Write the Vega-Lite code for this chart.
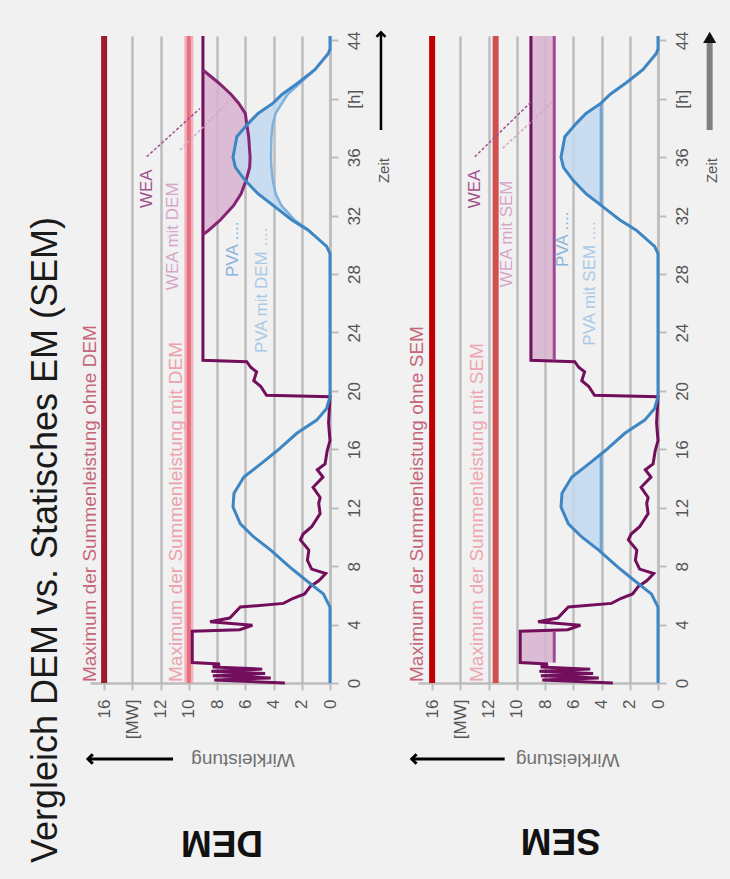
{
"$schema": "https://vega.github.io/schema/vega-lite/v6.json",
"background": "#f1f1f1",
"padding": {"left": 28, "top": 27, "right": 12, "bottom": 20},
"config": {"view": {"stroke": null}, "font": "Liberation Sans"},
"spacing": 88,
"bounds": "flush",
"datasets": {
"wea": [{"t":0,"mw":3.2},{"t":0.2,"mw":8.2},{"t":0.35,"mw":4.2},{"t":0.5,"mw":8.3},{"t":0.65,"mw":4.6},{"t":0.8,"mw":8.4},{"t":0.95,"mw":4.8},{"t":1.1,"mw":8.3},{"t":1.3,"mw":7.8},{"t":1.4,"mw":9.76},{"t":3.55,"mw":9.76},{"t":3.65,"mw":6.4},{"t":3.95,"mw":5.5},{"t":4.2,"mw":8.5},{"t":4.45,"mw":7.1},{"t":5.2,"mw":6.35},{"t":5.45,"mw":3.3},{"t":5.8,"mw":2.6},{"t":6.1,"mw":1.8},{"t":6.6,"mw":1.4},{"t":7.0,"mw":0.8},{"t":7.5,"mw":0.3},{"t":7.8,"mw":1.3},{"t":8.4,"mw":1.6},{"t":9.1,"mw":1.5},{"t":9.8,"mw":2.1},{"t":10.2,"mw":1.9},{"t":10.7,"mw":1.3},{"t":11.6,"mw":0.7},{"t":12.3,"mw":0.8},{"t":12.7,"mw":0.7},{"t":13.4,"mw":1.2},{"t":14.1,"mw":0.5},{"t":14.6,"mw":0.9},{"t":15.0,"mw":0.35},{"t":15.9,"mw":0.2},{"t":16.6,"mw":0.0},{"t":17.8,"mw":0.1},{"t":19.6,"mw":0.0},{"t":19.7,"mw":4.5},{"t":20.3,"mw":4.9},{"t":20.7,"mw":5.4},{"t":21.3,"mw":5.2},{"t":21.6,"mw":5.6},{"t":22.0,"mw":5.9},{"t":22.1,"mw":9.0},{"t":44.3,"mw":9.0}],
"pva": [{"t":0,"mw":0},{"t":5.2,"mw":0},{"t":6.1,"mw":0.47},{"t":7.0,"mw":1.65},{"t":7.9,"mw":2.8},{"t":9.1,"mw":4.2},{"t":10.0,"mw":5.4},{"t":10.9,"mw":6.35},{"t":12.05,"mw":6.87},{"t":13.0,"mw":6.8},{"t":14.1,"mw":6.1},{"t":15.0,"mw":4.9},{"t":15.9,"mw":3.75},{"t":17.1,"mw":2.35},{"t":18.0,"mw":0.94},{"t":18.8,"mw":0.24},{"t":19.6,"mw":0},{"t":29.4,"mw":0},{"t":29.9,"mw":0.24},{"t":31.0,"mw":1.54},{"t":31.7,"mw":2.7},{"t":32.7,"mw":4.03},{"t":33.5,"mw":5.1},{"t":34.4,"mw":6.0},{"t":35.3,"mw":6.7},{"t":36.0,"mw":6.87},{"t":37.4,"mw":6.6},{"t":38.3,"mw":5.8},{"t":39.0,"mw":5.1},{"t":39.7,"mw":4.03},{"t":40.3,"mw":3.4},{"t":41.1,"mw":2.25},{"t":42.0,"mw":1.07},{"t":43.1,"mw":0.12},{"t":43.4,"mw":0},{"t":44.3,"mw":0}],
"dem_wea_cut": [{"t":30.7,"wea":9.0,"cut":9.0},{"t":31.0,"wea":9.0,"cut":8.59},{"t":31.7,"wea":9.0,"cut":7.77},{"t":32.7,"wea":9.0,"cut":6.82},{"t":33.5,"wea":9.0,"cut":6.3},{"t":34.4,"wea":9.0,"cut":5.95},{"t":35.3,"wea":9.0,"cut":5.69},{"t":36.0,"wea":9.0,"cut":5.66},{"t":37.4,"wea":9.0,"cut":5.76},{"t":38.3,"wea":9.0,"cut":5.9},{"t":39.0,"wea":9.0,"cut":6.0},{"t":39.7,"wea":9.0,"cut":6.47},{"t":40.3,"wea":9.0,"cut":7.0},{"t":41.1,"wea":9.0,"cut":7.9},{"t":41.97,"wea":9.0,"cut":9.0}],
"dem_pva_cut": [{"t":30.7,"pva":1.19,"cut":1.19},{"t":31.0,"pva":1.54,"cut":1.5},{"t":31.7,"pva":2.7,"cut":2.5},{"t":32.7,"pva":4.03,"cut":3.45},{"t":33.5,"pva":5.1,"cut":3.85},{"t":34.4,"pva":6.0,"cut":4.05},{"t":35.3,"pva":6.7,"cut":4.15},{"t":36.0,"pva":6.87,"cut":4.18},{"t":37.4,"pva":6.6,"cut":4.15},{"t":38.3,"pva":5.8,"cut":4.05},{"t":39.0,"pva":5.1,"cut":3.85},{"t":39.7,"pva":4.03,"cut":3.4},{"t":40.3,"pva":3.4,"cut":3.0},{"t":41.1,"pva":2.25,"cut":2.1},{"t":42.0,"pva":1.07,"cut":1.07}],
"sem_wea_cut": [{"seg":"a","t":1.4,"wea":9.76,"cut":7.35},{"seg":"a","t":3.55,"wea":9.76,"cut":7.35},{"seg":"b","t":22.1,"wea":9.0,"cut":7.35},{"seg":"b","t":44.3,"wea":9.0,"cut":7.35}],
"sem_pva_cut": [{"seg":"a","t":8.95,"pva":4.03,"cut":4.03},{"seg":"a","t":9.1,"pva":4.2,"cut":4.03},{"seg":"a","t":10.0,"pva":5.4,"cut":4.03},{"seg":"a","t":10.9,"pva":6.35,"cut":4.03},{"seg":"a","t":12.05,"pva":6.87,"cut":4.03},{"seg":"a","t":13.0,"pva":6.8,"cut":4.03},{"seg":"a","t":14.1,"pva":6.1,"cut":4.03},{"seg":"a","t":15.0,"pva":4.9,"cut":4.03},{"seg":"a","t":15.68,"pva":4.03,"cut":4.03},{"seg":"b","t":32.7,"pva":4.03,"cut":4.03},{"seg":"b","t":33.5,"pva":5.1,"cut":4.03},{"seg":"b","t":34.4,"pva":6.0,"cut":4.03},{"seg":"b","t":35.3,"pva":6.7,"cut":4.03},{"seg":"b","t":36.0,"pva":6.87,"cut":4.03},{"seg":"b","t":37.4,"pva":6.6,"cut":4.03},{"seg":"b","t":38.3,"pva":5.8,"cut":4.03},{"seg":"b","t":39.0,"pva":5.1,"cut":4.03},{"seg":"b","t":39.7,"pva":4.03,"cut":4.03}]
},
"hconcat": [
{
"width": 240, "height": 647,
"resolve": {"axis": {"x": "independent", "y": "independent"}},
"layer": [
{"data":{"name":"dem_wea_cut"},"mark":{"type":"area","orient":"horizontal","color":"#d8b2d0","opacity":0.85},
 "encoding":{
  "y":{"field":"t","type":"quantitative","scale":{"domain":[0,44.3],"nice":false,"zero":false},
   "axis":{"orient":"right","title":null,"values":[0,4,8,12,16,20,24,28,32,36,40,44],"labelExpr":"datum.value==40?'[h]':datum.label","labelAngle":270,"labelAlign":"center","labelBaseline":"top","labelFontSize":17,"labelColor":"#555555","tickColor":"#bdbdbd","tickSize":8,"tickWidth":2,"domainColor":"#bdbdbd","domainWidth":2.5,"grid":false,"labelPadding":8}},
  "x":{"field":"wea","type":"quantitative","scale":{"domain":[0,17],"reverse":true,"nice":false,"zero":false},
   "axis":{"orient":"bottom","title":null,"values":[0,2,4,6,8,10,12,14,16],"labelExpr":"datum.value==14?'[MW]':datum.label","labelAngle":270,"labelAlign":"right","labelBaseline":"middle","labelFontSize":17,"labelColor":"#555555","tickColor":"#bdbdbd","tickSize":7,"tickWidth":2,"domainColor":"#bdbdbd","domainWidth":2.5,"grid":true,"gridColor":"#bdbdbd","gridWidth":2.5,"labelPadding":9}},
  "x2":{"field":"cut"}}},
{"data":{"name":"dem_pva_cut"},"mark":{"type":"area","orient":"horizontal","color":"#c3d8f0","opacity":0.85},
 "encoding":{"y":{"field":"t","type":"quantitative","scale":{"domain":[0,44.3],"nice":false,"zero":false},"axis":null},"x":{"field":"pva","type":"quantitative","scale":{"domain":[0,17],"reverse":true,"nice":false,"zero":false},"axis":null},"x2":{"field":"cut"}}},
{"data":{"values":[{}]},"mark":{"type":"rule","color":"#9b1b30","strokeWidth":6},
 "encoding":{"x":{"datum":16,"type":"quantitative","scale":{"domain":[0,17],"reverse":true,"nice":false,"zero":false},"axis":null}}},
{"data":{"values":[{}]},"mark":{"type":"rule","color":"#f3b2bb","strokeWidth":9},
 "encoding":{"x":{"datum":10,"type":"quantitative","scale":{"domain":[0,17],"reverse":true,"nice":false,"zero":false},"axis":null}}},
{"data":{"values":[{}]},"mark":{"type":"rule","color":"#e8707e","strokeWidth":4},
 "encoding":{"x":{"datum":10,"type":"quantitative","scale":{"domain":[0,17],"reverse":true,"nice":false,"zero":false},"axis":null}}},
{"data":{"values":[{}]},"mark":{"type":"text","text":"Maximum der Summenleistung ohne DEM","angle":270,"align":"left","baseline":"middle","fontSize":19,"color":"#c5667a"},
 "encoding":{"x":{"datum":17.0,"type":"quantitative","scale":{"domain":[0,17],"reverse":true,"nice":false,"zero":false},"axis":null},"y":{"datum":0.07,"type":"quantitative","scale":{"domain":[0,44.3],"nice":false,"zero":false},"axis":null}}},
{"data":{"values":[{}]},"mark":{"type":"text","text":"Maximum der Summenleistung mit DEM","angle":270,"align":"left","baseline":"middle","fontSize":19,"color":"#eba2ae"},
 "encoding":{"x":{"datum":10.94,"type":"quantitative","scale":{"domain":[0,17],"reverse":true,"nice":false,"zero":false},"axis":null},"y":{"datum":0.07,"type":"quantitative","scale":{"domain":[0,44.3],"nice":false,"zero":false},"axis":null}}},
{"data":{"name":"wea"},"mark":{"type":"line","color":"#720e5b","strokeWidth":3},
 "encoding":{"y":{"field":"t","type":"quantitative","scale":{"domain":[0,44.3],"nice":false,"zero":false},"axis":null},"x":{"field":"mw","type":"quantitative","scale":{"domain":[0,17],"reverse":true,"nice":false,"zero":false},"axis":null},"order":{"value":null}}},
{"data":{"name":"dem_wea_cut"},"mark":{"type":"line","color":"#852473","strokeWidth":3},
 "encoding":{"y":{"field":"t","type":"quantitative","scale":{"domain":[0,44.3],"nice":false,"zero":false},"axis":null},"x":{"field":"cut","type":"quantitative","scale":{"domain":[0,17],"reverse":true,"nice":false,"zero":false},"axis":null},"order":{"value":null}}},
{"data":{"name":"dem_pva_cut"},"mark":{"type":"line","color":"#7fb1dd","strokeWidth":2.5},
 "encoding":{"y":{"field":"t","type":"quantitative","scale":{"domain":[0,44.3],"nice":false,"zero":false},"axis":null},"x":{"field":"cut","type":"quantitative","scale":{"domain":[0,17],"reverse":true,"nice":false,"zero":false},"axis":null},"order":{"value":null}}},
{"data":{"name":"pva"},"mark":{"type":"line","color":"#3d86c3","strokeWidth":3},
 "encoding":{"y":{"field":"t","type":"quantitative","scale":{"domain":[0,44.3],"nice":false,"zero":false},"axis":null},"x":{"field":"mw","type":"quantitative","scale":{"domain":[0,17],"reverse":true,"nice":false,"zero":false},"axis":null},"order":{"value":null}}},
{"data":{"values":[{}]},"mark":{"type":"rule","color":"#a2508e","strokeWidth":1.5,"strokeDash":[3,2]},
 "encoding":{"x":{"datum":12.98,"type":"quantitative","scale":{"domain":[0,17],"reverse":true,"nice":false,"zero":false},"axis":null},"x2":{"datum":9.21},"y":{"datum":36.03,"type":"quantitative","scale":{"domain":[0,44.3],"nice":false,"zero":false},"axis":null},"y2":{"datum":39.34}}},
{"data":{"values":[{}]},"mark":{"type":"rule","color":"#d6a6c8","strokeWidth":1.5,"strokeDash":[3,2]},
 "encoding":{"x":{"datum":10.62,"type":"quantitative","scale":{"domain":[0,17],"reverse":true,"nice":false,"zero":false},"axis":null},"x2":{"datum":7.08},"y":{"datum":36.49,"type":"quantitative","scale":{"domain":[0,44.3],"nice":false,"zero":false},"axis":null},"y2":{"datum":39.9}}},
{"data":{"values":[{}]},"mark":{"type":"text","text":"WEA","angle":270,"align":"left","baseline":"middle","fontSize":17,"color":"#a2508e"},
 "encoding":{"x":{"datum":12.96,"type":"quantitative","scale":{"domain":[0,17],"reverse":true,"nice":false,"zero":false},"axis":null},"y":{"datum":32.52,"type":"quantitative","scale":{"domain":[0,44.3],"nice":false,"zero":false},"axis":null}}},
{"data":{"values":[{}]},"mark":{"type":"text","text":"WEA  mit DEM","angle":270,"align":"left","baseline":"middle","fontSize":17,"color":"#d6a6c8"},
 "encoding":{"x":{"datum":11.15,"type":"quantitative","scale":{"domain":[0,17],"reverse":true,"nice":false,"zero":false},"axis":null},"y":{"datum":26.9,"type":"quantitative","scale":{"domain":[0,44.3],"nice":false,"zero":false},"axis":null}}},
{"data":{"values":[{}]},"mark":{"type":"text","text":"PVA ....","angle":270,"align":"left","baseline":"middle","fontSize":17,"color":"#88b4dc"},
 "encoding":{"x":{"datum":6.87,"type":"quantitative","scale":{"domain":[0,17],"reverse":true,"nice":false,"zero":false},"axis":null},"y":{"datum":27.8,"type":"quantitative","scale":{"domain":[0,44.3],"nice":false,"zero":false},"axis":null}}},
{"data":{"values":[{}]},"mark":{"type":"text","text":"PVA  mit DEM ....","angle":270,"align":"left","baseline":"middle","fontSize":17,"color":"#a9c9e6"},
 "encoding":{"x":{"datum":4.82,"type":"quantitative","scale":{"domain":[0,17],"reverse":true,"nice":false,"zero":false},"axis":null},"y":{"datum":22.6,"type":"quantitative","scale":{"domain":[0,44.3],"nice":false,"zero":false},"axis":null}}},
{"data":{"values":[{}]},"mark":{"type":"text","text":"Wirkleistung","angle":180,"align":"center","baseline":"middle","fontSize":19,"color":"#707070"},
 "encoding":{"x":{"datum":6.16,"type":"quantitative","scale":{"domain":[0,17],"reverse":true,"nice":false,"zero":false},"axis":null},"y":{"datum":-5.27,"type":"quantitative","scale":{"domain":[0,44.3],"nice":false,"zero":false},"axis":null}}},
{"data":{"values":[{}]},"mark":{"type":"rule","color":"#000000","strokeWidth":3},
 "encoding":{"x":{"datum":11.12,"type":"quantitative","scale":{"domain":[0,17],"reverse":true,"nice":false,"zero":false},"axis":null},"x2":{"datum":17.14},"y":{"datum":-5.2,"type":"quantitative","scale":{"domain":[0,44.3],"nice":false,"zero":false},"axis":null}}},
{"data":{"values":[{}]},"mark":{"type":"point","shape":"M1,-1L0,0L1,1","filled":false,"color":"#000000","strokeWidth":3,"size":90,"opacity":1},
 "encoding":{"x":{"datum":17.14,"type":"quantitative","scale":{"domain":[0,17],"reverse":true,"nice":false,"zero":false},"axis":null},"y":{"datum":-5.2,"type":"quantitative","scale":{"domain":[0,44.3],"nice":false,"zero":false},"axis":null}}},
{"data":{"values":[{}]},"mark":{"type":"text","text":"DEM","angle":180,"align":"center","baseline":"middle","fontSize":37,"fontWeight":"bold","color":"#111111"},
 "encoding":{"x":{"datum":7.65,"type":"quantitative","scale":{"domain":[0,17],"reverse":true,"nice":false,"zero":false},"axis":null},"y":{"datum":-10.9,"type":"quantitative","scale":{"domain":[0,44.3],"nice":false,"zero":false},"axis":null}}},
{"data":{"values":[{}]},"mark":{"type":"rule","color":"#000000","strokeWidth":2.5},
 "encoding":{"x":{"datum":-3.61,"type":"quantitative","scale":{"domain":[0,17],"reverse":true,"nice":false,"zero":false},"axis":null},"y":{"datum":37.86,"type":"quantitative","scale":{"domain":[0,44.3],"nice":false,"zero":false},"axis":null},"y2":{"datum":44.5}}},
{"data":{"values":[{}]},"mark":{"type":"point","shape":"M-1,1L0,0L1,1","filled":false,"color":"#000000","strokeWidth":2.5,"size":80,"opacity":1},
 "encoding":{"x":{"datum":-3.61,"type":"quantitative","scale":{"domain":[0,17],"reverse":true,"nice":false,"zero":false},"axis":null},"y":{"datum":44.55,"type":"quantitative","scale":{"domain":[0,44.3],"nice":false,"zero":false},"axis":null}}},
{"data":{"values":[{}]},"mark":{"type":"text","text":"Zeit","angle":270,"align":"left","baseline":"middle","fontSize":15,"color":"#555555"},
 "encoding":{"x":{"datum":-3.82,"type":"quantitative","scale":{"domain":[0,17],"reverse":true,"nice":false,"zero":false},"axis":null},"y":{"datum":34.23,"type":"quantitative","scale":{"domain":[0,44.3],"nice":false,"zero":false},"axis":null}}},
{"data":{"values":[{}]},"mark":{"type":"text","text":"Vergleich DEM vs. Statisches EM (SEM)","angle":270,"align":"center","baseline":"middle","fontSize":36,"color":"#1a1a1a"},
 "encoding":{"x":{"datum":20.1,"type":"quantitative","scale":{"domain":[0,17],"reverse":true,"nice":false,"zero":false},"axis":null},"y":{"datum":9.79,"type":"quantitative","scale":{"domain":[0,44.3],"nice":false,"zero":false},"axis":null}}}
]
},
{
"width": 240, "height": 647,
"resolve": {"axis": {"x": "independent", "y": "independent"}},
"layer": [
{"data":{"name":"sem_wea_cut"},"mark":{"type":"area","orient":"horizontal","color":"#d8b2d0","opacity":0.85},
 "encoding":{
  "y":{"field":"t","type":"quantitative","scale":{"domain":[0,44.3],"nice":false,"zero":false},
   "axis":{"orient":"right","title":null,"values":[0,4,8,12,16,20,24,28,32,36,40,44],"labelExpr":"datum.value==40?'[h]':datum.label","labelAngle":270,"labelAlign":"center","labelBaseline":"top","labelFontSize":17,"labelColor":"#555555","tickColor":"#bdbdbd","tickSize":8,"tickWidth":2,"domainColor":"#bdbdbd","domainWidth":2.5,"grid":false,"labelPadding":8}},
  "x":{"field":"wea","type":"quantitative","scale":{"domain":[0,17],"reverse":true,"nice":false,"zero":false},
   "axis":{"orient":"bottom","title":null,"values":[0,2,4,6,8,10,12,14,16],"labelExpr":"datum.value==14?'[MW]':datum.label","labelAngle":270,"labelAlign":"right","labelBaseline":"middle","labelFontSize":17,"labelColor":"#555555","tickColor":"#bdbdbd","tickSize":7,"tickWidth":2,"domainColor":"#bdbdbd","domainWidth":2.5,"grid":true,"gridColor":"#bdbdbd","gridWidth":2.5,"labelPadding":9}},
  "x2":{"field":"cut"},"detail":{"field":"seg"}}},
{"data":{"name":"sem_pva_cut"},"mark":{"type":"area","orient":"horizontal","color":"#c3d8f0","opacity":0.85},
 "encoding":{"y":{"field":"t","type":"quantitative","scale":{"domain":[0,44.3],"nice":false,"zero":false},"axis":null},"x":{"field":"pva","type":"quantitative","scale":{"domain":[0,17],"reverse":true,"nice":false,"zero":false},"axis":null},"x2":{"field":"cut"},"detail":{"field":"seg"}}},
{"data":{"values":[{}]},"mark":{"type":"rule","color":"#c00000","strokeWidth":6},
 "encoding":{"x":{"datum":16,"type":"quantitative","scale":{"domain":[0,17],"reverse":true,"nice":false,"zero":false},"axis":null}}},
{"data":{"values":[{}]},"mark":{"type":"rule","color":"#d24f50","strokeWidth":6},
 "encoding":{"x":{"datum":11.5,"type":"quantitative","scale":{"domain":[0,17],"reverse":true,"nice":false,"zero":false},"axis":null}}},
{"data":{"values":[{}]},"mark":{"type":"text","text":"Maximum der Summenleistung ohne SEM","angle":270,"align":"left","baseline":"middle","fontSize":19,"color":"#c5667a"},
 "encoding":{"x":{"datum":17.09,"type":"quantitative","scale":{"domain":[0,17],"reverse":true,"nice":false,"zero":false},"axis":null},"y":{"datum":0.07,"type":"quantitative","scale":{"domain":[0,44.3],"nice":false,"zero":false},"axis":null}}},
{"data":{"values":[{}]},"mark":{"type":"text","text":"Maximum der Summenleistung mit SEM","angle":270,"align":"left","baseline":"middle","fontSize":19,"color":"#eda6b2"},
 "encoding":{"x":{"datum":12.84,"type":"quantitative","scale":{"domain":[0,17],"reverse":true,"nice":false,"zero":false},"axis":null},"y":{"datum":0.07,"type":"quantitative","scale":{"domain":[0,44.3],"nice":false,"zero":false},"axis":null}}},
{"data":{"name":"wea"},"mark":{"type":"line","color":"#720e5b","strokeWidth":3},
 "encoding":{"y":{"field":"t","type":"quantitative","scale":{"domain":[0,44.3],"nice":false,"zero":false},"axis":null},"x":{"field":"mw","type":"quantitative","scale":{"domain":[0,17],"reverse":true,"nice":false,"zero":false},"axis":null},"order":{"value":null}}},
{"data":{"name":"sem_wea_cut"},"mark":{"type":"line","color":"#a14891","strokeWidth":3},
 "encoding":{"y":{"field":"t","type":"quantitative","scale":{"domain":[0,44.3],"nice":false,"zero":false},"axis":null},"x":{"field":"cut","type":"quantitative","scale":{"domain":[0,17],"reverse":true,"nice":false,"zero":false},"axis":null},"detail":{"field":"seg"},"order":{"value":null}}},
{"data":{"name":"sem_pva_cut"},"mark":{"type":"line","color":"#6fa6d6","strokeWidth":3},
 "encoding":{"y":{"field":"t","type":"quantitative","scale":{"domain":[0,44.3],"nice":false,"zero":false},"axis":null},"x":{"field":"cut","type":"quantitative","scale":{"domain":[0,17],"reverse":true,"nice":false,"zero":false},"axis":null},"detail":{"field":"seg"},"order":{"value":null}}},
{"data":{"name":"pva"},"mark":{"type":"line","color":"#3d86c3","strokeWidth":3},
 "encoding":{"y":{"field":"t","type":"quantitative","scale":{"domain":[0,44.3],"nice":false,"zero":false},"axis":null},"x":{"field":"mw","type":"quantitative","scale":{"domain":[0,17],"reverse":true,"nice":false,"zero":false},"axis":null},"order":{"value":null}}},
{"data":{"values":[{}]},"mark":{"type":"rule","color":"#a2508e","strokeWidth":1.5,"strokeDash":[3,2]},
 "encoding":{"x":{"datum":12.98,"type":"quantitative","scale":{"domain":[0,17],"reverse":true,"nice":false,"zero":false},"axis":null},"x2":{"datum":8.97},"y":{"datum":36.03,"type":"quantitative","scale":{"domain":[0,44.3],"nice":false,"zero":false},"axis":null},"y2":{"datum":39.8}}},
{"data":{"values":[{}]},"mark":{"type":"rule","color":"#d6a6c8","strokeWidth":1.5,"strokeDash":[3,2]},
 "encoding":{"x":{"datum":11.0,"type":"quantitative","scale":{"domain":[0,17],"reverse":true,"nice":false,"zero":false},"axis":null},"x2":{"datum":7.46},"y":{"datum":36.62,"type":"quantitative","scale":{"domain":[0,44.3],"nice":false,"zero":false},"axis":null},"y2":{"datum":39.79}}},
{"data":{"values":[{}]},"mark":{"type":"text","text":"WEA","angle":270,"align":"left","baseline":"middle","fontSize":17,"color":"#a2508e"},
 "encoding":{"x":{"datum":12.98,"type":"quantitative","scale":{"domain":[0,17],"reverse":true,"nice":false,"zero":false},"axis":null},"y":{"datum":32.5,"type":"quantitative","scale":{"domain":[0,44.3],"nice":false,"zero":false},"axis":null}}},
{"data":{"values":[{}]},"mark":{"type":"text","text":"WEA  mit SEM","angle":270,"align":"left","baseline":"middle","fontSize":17,"color":"#d6a6c8"},
 "encoding":{"x":{"datum":10.72,"type":"quantitative","scale":{"domain":[0,17],"reverse":true,"nice":false,"zero":false},"axis":null},"y":{"datum":27.1,"type":"quantitative","scale":{"domain":[0,44.3],"nice":false,"zero":false},"axis":null}}},
{"data":{"values":[{}]},"mark":{"type":"text","text":"PVA ....","angle":270,"align":"left","baseline":"middle","fontSize":17,"color":"#88b4dc"},
 "encoding":{"x":{"datum":6.75,"type":"quantitative","scale":{"domain":[0,17],"reverse":true,"nice":false,"zero":false},"axis":null},"y":{"datum":28.48,"type":"quantitative","scale":{"domain":[0,44.3],"nice":false,"zero":false},"axis":null}}},
{"data":{"values":[{}]},"mark":{"type":"text","text":"PVA  mit SEM ....","angle":270,"align":"left","baseline":"middle","fontSize":17,"color":"#a9c9e6"},
 "encoding":{"x":{"datum":4.84,"type":"quantitative","scale":{"domain":[0,17],"reverse":true,"nice":false,"zero":false},"axis":null},"y":{"datum":23.1,"type":"quantitative","scale":{"domain":[0,44.3],"nice":false,"zero":false},"axis":null}}},
{"data":{"values":[{}]},"mark":{"type":"text","text":"Wirkleistung","angle":180,"align":"center","baseline":"middle","fontSize":19,"color":"#707070"},
 "encoding":{"x":{"datum":6.4,"type":"quantitative","scale":{"domain":[0,17],"reverse":true,"nice":false,"zero":false},"axis":null},"y":{"datum":-5.27,"type":"quantitative","scale":{"domain":[0,44.3],"nice":false,"zero":false},"axis":null}}},
{"data":{"values":[{}]},"mark":{"type":"rule","color":"#000000","strokeWidth":3},
 "encoding":{"x":{"datum":10.86,"type":"quantitative","scale":{"domain":[0,17],"reverse":true,"nice":false,"zero":false},"axis":null},"x2":{"datum":17.44},"y":{"datum":-5.2,"type":"quantitative","scale":{"domain":[0,44.3],"nice":false,"zero":false},"axis":null}}},
{"data":{"values":[{}]},"mark":{"type":"point","shape":"M1,-1L0,0L1,1","filled":false,"color":"#000000","strokeWidth":3,"size":90,"opacity":1},
 "encoding":{"x":{"datum":17.44,"type":"quantitative","scale":{"domain":[0,17],"reverse":true,"nice":false,"zero":false},"axis":null},"y":{"datum":-5.2,"type":"quantitative","scale":{"domain":[0,44.3],"nice":false,"zero":false},"axis":null}}},
{"data":{"values":[{}]},"mark":{"type":"text","text":"SEM","angle":180,"align":"center","baseline":"middle","fontSize":37,"fontWeight":"bold","color":"#111111"},
 "encoding":{"x":{"datum":6.89,"type":"quantitative","scale":{"domain":[0,17],"reverse":true,"nice":false,"zero":false},"axis":null},"y":{"datum":-10.76,"type":"quantitative","scale":{"domain":[0,44.3],"nice":false,"zero":false},"axis":null}}},
{"data":{"values":[{}]},"mark":{"type":"rule","color":"#808080","strokeWidth":6},
 "encoding":{"x":{"datum":-3.66,"type":"quantitative","scale":{"domain":[0,17],"reverse":true,"nice":false,"zero":false},"axis":null},"y":{"datum":37.86,"type":"quantitative","scale":{"domain":[0,44.3],"nice":false,"zero":false},"axis":null},"y2":{"datum":43.9}}},
{"data":{"values":[{}]},"mark":{"type":"point","shape":"triangle-up","filled":true,"color":"#111111","size":170,"opacity":1},
 "encoding":{"x":{"datum":-3.66,"type":"quantitative","scale":{"domain":[0,17],"reverse":true,"nice":false,"zero":false},"axis":null},"y":{"datum":44.2,"type":"quantitative","scale":{"domain":[0,44.3],"nice":false,"zero":false},"axis":null}}},
{"data":{"values":[{}]},"mark":{"type":"text","text":"Zeit","angle":270,"align":"left","baseline":"middle","fontSize":15,"color":"#555555"},
 "encoding":{"x":{"datum":-3.8,"type":"quantitative","scale":{"domain":[0,17],"reverse":true,"nice":false,"zero":false},"axis":null},"y":{"datum":34.23,"type":"quantitative","scale":{"domain":[0,44.3],"nice":false,"zero":false},"axis":null}}}
]
}
]
}
